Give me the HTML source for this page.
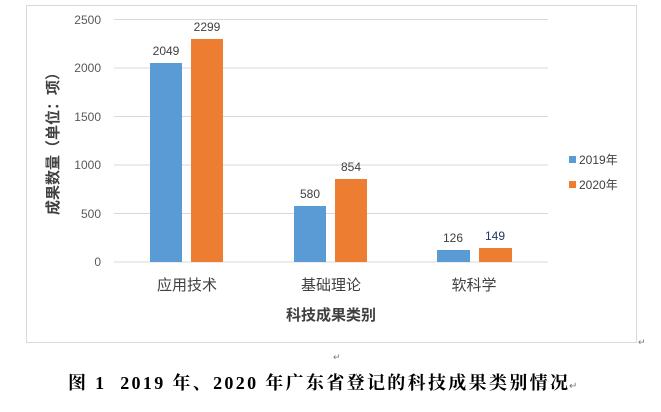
<!DOCTYPE html>
<html><head><meta charset="utf-8"><style>
body{margin:0;background:#fff;width:661px;height:407px;overflow:hidden}
svg text{font-family:"Liberation Sans","Noto Sans CJK SC",sans-serif}
</style></head><body>
<svg width="661" height="407" xmlns="http://www.w3.org/2000/svg">
<rect x="26.5" y="5.5" width="610" height="337" fill="#fff" stroke="#d9d9d9"/>
<g stroke="#d9d9d9" stroke-width="1">
<line x1="114" y1="19.5" x2="548" y2="19.5"/>
<line x1="114" y1="68" x2="548" y2="68"/>
<line x1="114" y1="116.5" x2="548" y2="116.5"/>
<line x1="114" y1="165" x2="548" y2="165"/>
<line x1="114" y1="213.5" x2="548" y2="213.5"/>
<line x1="114" y1="262" x2="548" y2="262"/>
</g>
<g font-size="12" fill="#595959" text-anchor="end">
<text x="101" y="24">2500</text><text x="101" y="72">2000</text><text x="101" y="121">1500</text>
<text x="101" y="169">1000</text><text x="101" y="218">500</text><text x="101" y="266">0</text>
</g>
<g fill="#5b9bd5">
<rect x="150" y="63" width="32" height="199"/>
<rect x="294" y="206" width="32" height="56"/>
<rect x="437" y="250" width="33" height="12"/>
</g>
<g fill="#ed7d31">
<rect x="191" y="39" width="32" height="223"/>
<rect x="335" y="179" width="32" height="83"/>
<rect x="479" y="248" width="33" height="14"/>
</g>
<g font-size="12" fill="#404040" text-anchor="middle">
<text x="166" y="55">2049</text><text x="207" y="31">2299</text>
<text x="310" y="198">580</text><text x="351" y="171">854</text>
<text x="453" y="242">126</text><text x="495" y="240" fill="#1f3864">149</text>
</g>
<g font-size="15" fill="#404040" text-anchor="middle">
<text x="187" y="290">应用技术</text><text x="331" y="290">基础理论</text><text x="474" y="290">软科学</text>
</g>
<text x="331" y="320" font-size="15" font-weight="bold" fill="#404040" text-anchor="middle">科技成果类别</text>
<text transform="translate(58,140) rotate(-90)" font-size="15" font-weight="bold" fill="#404040" text-anchor="middle" textLength="150" lengthAdjust="spacing">成果数量（单位：项）</text>
<rect x="569" y="156" width="7" height="7" fill="#5b9bd5"/>
<text x="579" y="164" font-size="12" fill="#404040">2019年</text>
<rect x="569" y="181" width="7" height="7" fill="#ed7d31"/>
<text x="579" y="189" font-size="12" fill="#404040">2020年</text>
<text x="333" y="360" font-size="9" fill="#777">↵</text>
<text x="638" y="345" font-size="9" fill="#777">↵</text>
<text x="68" y="389" font-size="18" font-weight="bold" fill="#000" style="font-family:'Liberation Serif','Noto Serif CJK SC',serif" textLength="500" lengthAdjust="spacing">图 1&#160;&#160;2019 年、2020 年广东省登记的科技成果类别情况</text>
<text x="569" y="389" font-size="10" fill="#777">↵</text>
</svg>
</body></html>
